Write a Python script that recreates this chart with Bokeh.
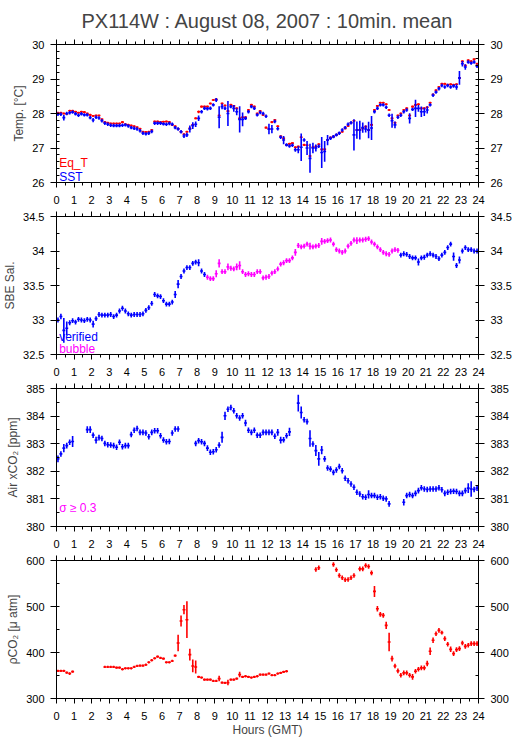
from bokeh.plotting import figure
from bokeh.models import Range1d, LinearAxis, SingleIntervalTicker, CustomJSTickFormatter, Label
from bokeh.layouts import column
from bokeh.embed import file_html
from bokeh.resources import INLINE

FONT = "Liberation Sans"
TITLE = "PX114W : August 08, 2007 : 10min. mean"
BIN_HOURS = 1.0 / 6.0          # 10-minute means
BUBBLE_HOURS = (8.5, 19.5)     # salinity flagged "bubble" in this window

# ---------------- Temperature (deg C), 10-min means ----------------
EQ_T = [
    28.02, 28.02, 28.00, 27.99, 28.08, 28.08, 28.05, 28.02, 28.05, 28.04, 28.00, 27.96,
    27.93, 27.94, 27.94, 27.83, 27.75, 27.73, 27.71, 27.71, 27.71, 27.71, 27.75, 27.69,
    27.67, 27.65, 27.63, 27.60, 27.56, 27.47, 27.46, 27.47, 27.52, 27.77, 27.77, 27.75,
    27.76, 27.77, 27.75, 27.67, 27.63, 27.56, 27.47, 27.40, 27.47, 27.57, 27.67, 27.86,
    28.05, 28.20, 28.20, 28.20, 28.29, 28.39, 28.41, 27.94, 28.29, 28.23, 28.07, 28.25,
    28.22, 28.15, 27.86, 27.89, 27.89, 28.10, 28.25, 28.20, 28.00, 28.07, 27.96, 27.59,
    27.55, 27.75, 27.81, 27.63, 27.34, 27.28, 27.09, 27.12, 27.14, 27.02, 27.04, 27.31,
    27.09, 27.08, 26.77, 27.02, 27.04, 27.11, 26.96, 26.96, 27.23, 27.30, 27.33, 27.38,
    27.43, 27.47, 27.57, 27.64, 27.73, 27.79, 27.52, 27.52, 27.57, 27.62, 27.52, 27.67,
    28.10, 28.22, 28.31, 28.31, 28.27, 28.10, 27.86, 27.73, 27.94, 28.00, 28.10, 28.15,
    27.94, 28.20, 28.25, 28.27, 28.15, 28.15, 28.18, 28.31, 28.55, 28.67, 28.77, 28.86,
    28.86, 28.83, 28.85, 28.83, 28.85, 29.03, 29.51, 29.39, 29.54, 29.51, 29.57, 29.44,
]
EQ_T_SD = [
    0.03, 0.03, 0.03, 0.03, 0.03, 0.03, 0.03, 0.03, 0.03, 0.03, 0.03, 0.03,
    0.03, 0.03, 0.03, 0.03, 0.03, 0.03, 0.03, 0.03, 0.03, 0.03, 0.03, 0.03,
    0.03, 0.03, 0.03, 0.03, 0.03, 0.03, 0.03, 0.03, 0.03, 0.03, 0.03, 0.03,
    0.03, 0.03, 0.03, 0.03, 0.03, 0.03, 0.03, 0.03, 0.03, 0.03, 0.03, 0.03,
    0.04, 0.03, 0.03, 0.03, 0.03, 0.03, 0.03, 0.03, 0.03, 0.03, 0.03, 0.03,
    0.03, 0.03, 0.03, 0.03, 0.03, 0.03, 0.03, 0.03, 0.03, 0.03, 0.03, 0.03,
    0.03, 0.03, 0.03, 0.03, 0.03, 0.03, 0.03, 0.03, 0.03, 0.03, 0.03, 0.03,
    0.03, 0.03, 0.03, 0.03, 0.03, 0.03, 0.03, 0.03, 0.03, 0.03, 0.03, 0.03,
    0.03, 0.03, 0.03, 0.03, 0.03, 0.03, 0.03, 0.03, 0.03, 0.03, 0.03, 0.03,
    0.03, 0.03, 0.03, 0.03, 0.03, 0.03, 0.03, 0.03, 0.03, 0.03, 0.03, 0.03,
    0.03, 0.03, 0.03, 0.03, 0.03, 0.03, 0.03, 0.03, 0.03, 0.03, 0.03, 0.03,
    0.03, 0.03, 0.03, 0.03, 0.03, 0.03, 0.03, 0.03, 0.03, 0.03, 0.03, 0.03,
]
SST = [
    27.98, 27.98, 27.88, 28.00, 28.02, 28.04, 27.99, 27.95, 27.99, 27.96, 27.96, 27.88,
    27.81, 27.89, 27.87, 27.79, 27.72, 27.69, 27.66, 27.65, 27.65, 27.65, 27.66, 27.67,
    27.64, 27.59, 27.57, 27.55, 27.50, 27.43, 27.41, 27.43, 27.48, 27.72, 27.72, 27.72,
    27.70, 27.69, 27.71, 27.69, 27.59, 27.55, 27.47, 27.35, 27.38, 27.55, 27.65, 27.69,
    27.86, 28.05, 28.15, 28.14, 28.15, 28.25, 28.39, 27.89, 28.20, 28.15, 28.00, 28.20,
    28.15, 28.05, 27.83, 27.83, 27.86, 28.05, 28.20, 28.15, 27.96, 28.03, 28.00, 27.92,
    27.55, 27.55, 27.77, 27.56, 27.31, 27.23, 27.09, 27.06, 27.08, 26.95, 26.95, 27.02,
    27.23, 27.00, 26.70, 27.00, 27.00, 27.05, 26.87, 26.90, 27.23, 27.28, 27.33, 27.38,
    27.43, 27.52, 27.59, 27.69, 27.73, 27.38, 27.52, 27.52, 27.59, 27.55, 27.52, 27.58,
    28.05, 28.15, 28.25, 28.25, 28.18, 27.95, 27.79, 27.67, 27.89, 27.95, 28.05, 28.10,
    27.86, 28.12, 28.15, 28.15, 28.05, 28.05, 28.10, 28.25, 28.53, 28.62, 28.72, 28.81,
    28.77, 28.81, 28.77, 28.80, 28.77, 29.03, 29.44, 29.35, 29.49, 29.46, 29.49, 29.37,
]
SST_SD = [
    0.05, 0.05, 0.08, 0.05, 0.05, 0.05, 0.05, 0.05, 0.05, 0.05, 0.05, 0.05,
    0.06, 0.05, 0.05, 0.05, 0.05, 0.05, 0.05, 0.05, 0.05, 0.05, 0.05, 0.05,
    0.05, 0.05, 0.05, 0.05, 0.05, 0.05, 0.05, 0.05, 0.05, 0.05, 0.05, 0.05,
    0.05, 0.05, 0.05, 0.05, 0.05, 0.05, 0.05, 0.06, 0.06, 0.10, 0.10, 0.08,
    0.08, 0.05, 0.05, 0.05, 0.05, 0.05, 0.06, 0.32, 0.08, 0.05, 0.36, 0.05,
    0.10, 0.10, 0.38, 0.20, 0.05, 0.05, 0.05, 0.05, 0.05, 0.05, 0.05, 0.05,
    0.15, 0.12, 0.05, 0.05, 0.05, 0.12, 0.05, 0.05, 0.05, 0.06, 0.10, 0.40,
    0.05, 0.20, 0.42, 0.15, 0.10, 0.05, 0.45, 0.30, 0.15, 0.05, 0.05, 0.05,
    0.05, 0.05, 0.05, 0.05, 0.05, 0.45, 0.25, 0.27, 0.15, 0.10, 0.24, 0.35,
    0.05, 0.05, 0.05, 0.05, 0.05, 0.05, 0.20, 0.10, 0.05, 0.05, 0.05, 0.05,
    0.15, 0.05, 0.25, 0.10, 0.15, 0.12, 0.10, 0.05, 0.05, 0.05, 0.05, 0.05,
    0.05, 0.05, 0.05, 0.05, 0.08, 0.20, 0.08, 0.08, 0.05, 0.05, 0.05, 0.05,
]

# ---------------- SBE salinity ----------------
SAL = [
    33.00, 33.05, 32.85, 32.88, 32.96, 32.99, 32.97, 33.01, 33.00, 32.99, 33.01, 33.00,
    32.94, 33.02, 33.08, 33.07, 33.07, 33.07, 33.08, 33.05, 33.07, 33.13, 33.17, 33.13,
    33.09, 33.07, 33.08, 33.08, 33.08, 33.09, 33.14, 33.18, 33.24, 33.37, 33.35, 33.34,
    33.28, 33.23, 33.23, 33.26, 33.37, 33.52, 33.63, 33.71, 33.76, 33.76, 33.82, 33.84,
    33.83, 33.71, 33.66, 33.62, 33.60, 33.60, 33.67, 33.82, 33.70, 33.70, 33.77, 33.75,
    33.74, 33.77, 33.79, 33.70, 33.66, 33.67, 33.66, 33.66, 33.70, 33.70, 33.61, 33.62,
    33.63, 33.68, 33.70, 33.74, 33.81, 33.83, 33.86, 33.86, 33.90, 33.98, 34.08, 34.06,
    34.07, 34.10, 34.07, 34.06, 34.07, 34.08, 34.14, 34.14, 34.15, 34.16, 34.10, 34.02,
    34.00, 33.98, 34.00, 34.07, 34.11, 34.16, 34.15, 34.16, 34.16, 34.17, 34.18, 34.13,
    34.10, 34.06, 34.02, 33.98, 33.96, 33.95, 34.00, 34.02, 34.01, 33.94, 33.96, 33.95,
    33.92, 33.90, 33.90, 33.84, 33.90, 33.91, 33.94, 33.96, 33.94, 33.92, 33.89, 33.94,
    33.98, 34.05, 34.10, 33.92, 33.79, 33.87, 34.00, 34.05, 34.02, 34.02, 34.00, 34.00,
]
SAL_SD = [
    0.035, 0.04, 0.18, 0.10, 0.035, 0.035, 0.035, 0.035, 0.035, 0.035, 0.035, 0.035,
    0.05, 0.035, 0.035, 0.035, 0.035, 0.035, 0.035, 0.035, 0.035, 0.035, 0.035, 0.035,
    0.035, 0.035, 0.035, 0.035, 0.035, 0.035, 0.035, 0.035, 0.035, 0.035, 0.035, 0.035,
    0.035, 0.035, 0.035, 0.035, 0.05, 0.06, 0.035, 0.035, 0.035, 0.035, 0.035, 0.035,
    0.05, 0.035, 0.035, 0.035, 0.035, 0.035, 0.05, 0.06, 0.035, 0.035, 0.05, 0.035,
    0.035, 0.05, 0.06, 0.035, 0.035, 0.035, 0.035, 0.035, 0.035, 0.035, 0.035, 0.035,
    0.035, 0.035, 0.035, 0.035, 0.035, 0.035, 0.035, 0.035, 0.035, 0.05, 0.035, 0.035,
    0.035, 0.035, 0.05, 0.035, 0.035, 0.035, 0.05, 0.035, 0.035, 0.035, 0.035, 0.035,
    0.035, 0.035, 0.035, 0.035, 0.035, 0.035, 0.05, 0.035, 0.035, 0.035, 0.035, 0.035,
    0.035, 0.035, 0.035, 0.035, 0.035, 0.035, 0.035, 0.035, 0.035, 0.035, 0.035, 0.035,
    0.035, 0.035, 0.035, 0.05, 0.035, 0.035, 0.035, 0.035, 0.035, 0.035, 0.035, 0.035,
    0.035, 0.035, 0.035, 0.06, 0.035, 0.05, 0.035, 0.035, 0.035, 0.035, 0.035, 0.035,
]

# ---------------- Air xCO2 (ppm) ----------------
XCO2 = [
    382.45, 382.63, 382.84, 382.93, 383.05, 383.08, None, None, None, None, 383.51, 383.51,
    383.31, 383.13, 383.22, 383.19, 383.01, 382.96, 382.95, 382.93, 382.87, 383.05, 382.89, 382.93,
    382.93, 383.33, 383.49, 383.55, 383.41, 383.41, 383.39, 383.25, 383.41, 383.47, 383.47, 383.29,
    383.13, 383.07, 383.08, 383.39, 383.53, 383.53, None, None, None, None, None, 383.01,
    383.11, 383.07, 383.01, 382.84, 382.69, 382.71, 382.78, 382.95, 383.23, 384.01, 384.25, 384.31,
    384.19, 384.01, 383.93, 384.01, 383.75, 383.49, 383.41, 383.49, 383.31, 383.31, 383.41, 383.41,
    383.41, 383.41, 383.27, 383.41, 383.13, 383.14, 383.29, 383.43, None, None, 384.47, 384.13,
    383.87, 383.80, 383.19, 382.99, 382.75, 382.45, 382.77, 382.45, 382.12, 382.08, 381.96, 382.05,
    382.17, 382.02, 381.75, 381.66, 381.54, 381.42, 381.24, 381.18, 381.08, 381.06, 381.16, 381.12,
    381.12, 381.06, 381.08, 381.02, 381.00, 380.82, None, None, None, None, 380.88, 381.12,
    381.16, 381.12, 381.20, 381.30, 381.40, 381.36, 381.34, 381.36, 381.36, 381.36, 381.40, 381.33,
    381.20, 381.24, 381.27, 381.28, 381.27, 381.20, 381.20, 381.30, 381.39, 381.36, 381.34, 381.39,
]
XCO2_SD = [
    0.12, 0.10, 0.15, 0.10, 0.10, 0.20, 0.10, 0.10, 0.10, 0.10, 0.12, 0.12,
    0.10, 0.12, 0.10, 0.10, 0.10, 0.10, 0.10, 0.10, 0.10, 0.10, 0.10, 0.10,
    0.10, 0.10, 0.10, 0.10, 0.10, 0.10, 0.10, 0.10, 0.10, 0.10, 0.10, 0.10,
    0.10, 0.10, 0.10, 0.10, 0.10, 0.10, 0.10, 0.10, 0.10, 0.10, 0.10, 0.10,
    0.10, 0.10, 0.10, 0.10, 0.10, 0.10, 0.10, 0.10, 0.20, 0.15, 0.10, 0.10,
    0.10, 0.10, 0.10, 0.10, 0.12, 0.10, 0.10, 0.10, 0.10, 0.10, 0.10, 0.10,
    0.10, 0.10, 0.10, 0.12, 0.12, 0.10, 0.10, 0.15, 0.10, 0.10, 0.30, 0.22,
    0.10, 0.10, 0.30, 0.10, 0.20, 0.25, 0.15, 0.10, 0.10, 0.10, 0.10, 0.10,
    0.10, 0.10, 0.10, 0.10, 0.10, 0.10, 0.10, 0.10, 0.10, 0.10, 0.15, 0.10,
    0.10, 0.10, 0.10, 0.10, 0.10, 0.10, 0.10, 0.10, 0.10, 0.10, 0.12, 0.10,
    0.10, 0.10, 0.10, 0.10, 0.10, 0.10, 0.10, 0.10, 0.10, 0.10, 0.10, 0.10,
    0.10, 0.10, 0.10, 0.10, 0.10, 0.10, 0.10, 0.10, 0.18, 0.28, 0.10, 0.10,
]

# ---------------- pCO2 (micro atm) ----------------
PCO2 = [
    360.0, 360.0, 360.0, 356.3, 354.2, 358.5, None, None, None, None, None, None,
    None, None, None, None, 368.6, 368.6, 368.6, 368.6, 367.2, 367.2, 363.6, 365.7,
    365.7, 365.7, 368.6, 370.8, 371.5, 371.5, 373.4, 378.7, 383.1, 387.4, 391.0, 388.1,
    386.7, 378.7, 378.7, 381.6, 393.2, 420.7, 468.4, 493.0, 471.3, 395.4, 370.8, 368.6,
    347.0, 345.5, 341.1, 341.1, 341.1, 338.2, 338.2, 343.3, 334.6, 333.9, 334.6, 341.1,
    341.1, 343.3, 352.0, 347.0, 348.4, 347.0, 345.5, 347.0, 348.4, 352.0, 352.0, 352.0,
    354.2, 350.6, 350.6, 354.2, 355.6, 357.8, 359.2, None, None, None, None, None,
    None, None, None, None, 580.5, 584.1, None, 610.8, 610.8, 607.2, 591.3, 579.8,
    567.5, 562.4, 558.1, 558.8, 562.4, 567.5, None, 581.9, 581.9, 589.2, 587.0, 573.2,
    532.8, 495.2, 482.9, 480.7, 459.0, 422.8, 386.7, 370.8, 360.0, 350.6, 355.6, 355.6,
    350.6, 347.0, 359.2, 363.6, 366.5, 366.5, 375.9, 402.6, 426.5, 440.9, 448.2, 443.1,
    430.1, 417.8, 406.9, 397.5, 406.2, 408.4, 420.7, 413.4, 415.6, 419.2, 419.2, 419.2,
]
PCO2_SD = [
    2.5, 2.5, 2.5, 2.5, 3.0, 2.5, 2.5, 2.5, 2.5, 2.5, 2.5, 2.5,
    2.5, 2.5, 2.5, 2.5, 2.5, 2.5, 2.5, 2.5, 2.5, 2.5, 2.5, 2.5,
    2.5, 2.5, 2.5, 2.5, 2.5, 2.5, 2.5, 2.5, 2.5, 2.5, 2.5, 2.5,
    2.5, 2.5, 2.5, 2.5, 2.5, 18.0, 12.0, 10.0, 40.0, 13.0, 14.0, 14.0,
    2.5, 2.5, 2.5, 2.5, 2.5, 2.5, 2.5, 6.0, 2.5, 2.5, 6.0, 2.5,
    2.5, 2.5, 6.0, 2.5, 2.5, 2.5, 2.5, 2.5, 2.5, 2.5, 2.5, 2.5,
    2.5, 2.5, 2.5, 2.5, 2.5, 2.5, 2.5, 2.5, 2.5, 2.5, 2.5, 2.5,
    5.0, 5.0, 5.0, 5.0, 5.0, 5.0, 5.0, 6.0, 8.0, 5.0, 5.0, 5.0,
    5.0, 5.0, 5.0, 5.0, 5.0, 5.0, 5.0, 5.0, 5.0, 5.0, 5.0, 5.0,
    12.0, 6.0, 5.0, 5.0, 8.0, 20.0, 6.0, 5.0, 5.0, 5.0, 5.0, 5.0,
    5.0, 6.0, 5.0, 5.0, 5.0, 5.0, 6.0, 8.0, 6.0, 5.0, 5.0, 4.0,
    5.0, 5.0, 6.0, 5.0, 5.0, 5.0, 5.0, 5.0, 5.0, 5.0, 5.0, 5.0,
]

HOURS = [(i + 0.5) * BIN_HOURS for i in range(len(SST))]

RED, BLUE, MAGENTA = "#ff0000", "#0000ff", "#ff00ff"

# ---------------- layout (page is drawn from the window's top-left) ----------------
W = 515
L_BORDER, R_BORDER = 52, 37
FRAME_H = 138
GAP_BOTTOM, GAP_TOP = 27, 7
TOP1 = 44
BOTTOM4 = 41
LW = 1.6


def crosses(p, vals, sds, color, keep=None):
    hx0, hx1, hy, vx, vy0, vy1 = [], [], [], [], [], []
    for t, v, s in zip(HOURS, vals, sds):
        if v is None:
            continue
        if keep is not None and not keep(t):
            continue
        hx0.append(t - BIN_HOURS / 2)
        hx1.append(t + BIN_HOURS / 2)
        hy.append(v)
        vx.append(t)
        vy0.append(v - s)
        vy1.append(v + s)
    p.segment(x0=hx0, y0=hy, x1=hx1, y1=hy, line_color=color, line_width=LW)
    p.segment(x0=vx, y0=vy0, x1=vx, y1=vy1, line_color=color, line_width=LW)


def style_common(ax):
    ax.axis_line_color = "black"
    ax.axis_line_width = 1
    ax.major_tick_line_color = "black"
    ax.minor_tick_line_color = "black"
    ax.major_label_text_color = "black"
    ax.major_label_text_font = FONT


def make_panel(height, top, bottom, yr, yint, yminor, ylabel, xlabel=None):
    p = figure(width=W, height=height,
               min_border_left=L_BORDER, min_border_right=R_BORDER,
               min_border_top=top, min_border_bottom=bottom,
               x_range=Range1d(0, 24), y_range=Range1d(*yr),
               x_axis_location=None, y_axis_location=None,
               output_backend="svg", toolbar_location=None,
               background_fill_color="white", border_fill_color="white")
    p.grid.visible = False
    p.outline_line_color = "black"
    p.outline_line_width = 1

    # hour axis below (labelled) and above (ticks only)
    below = LinearAxis(ticker=SingleIntervalTicker(interval=1, num_minor_ticks=2))
    style_common(below)
    below.major_tick_out, below.major_tick_in = 5, 0
    below.minor_tick_out, below.minor_tick_in = 3, 0
    below.major_label_text_font_size = "11px"
    below.major_label_standoff = 8
    if xlabel:
        below.axis_label = xlabel
        below.axis_label_text_font = FONT
        below.axis_label_text_font_size = "12px"
        below.axis_label_text_font_style = "normal"
        below.axis_label_standoff = 0
    p.add_layout(below, "below")

    above = LinearAxis(ticker=SingleIntervalTicker(interval=1, num_minor_ticks=2),
                       formatter=CustomJSTickFormatter(code="return '';"))
    style_common(above)
    above.major_tick_out, above.major_tick_in = 5, 0
    above.minor_tick_out, above.minor_tick_in = 3, 0
    above.major_label_text_font_size = "1px"
    above.major_label_text_alpha = 0
    above.major_label_standoff = 0
    p.add_layout(above, "above")

    fmt = CustomJSTickFormatter(code="return String(Math.round(tick * 10) / 10);")
    for where in ("left", "right"):
        ax = LinearAxis(ticker=SingleIntervalTicker(interval=yint, num_minor_ticks=yminor),
                        formatter=fmt)
        style_common(ax)
        ax.major_tick_out, ax.major_tick_in = 6, 0
        ax.minor_tick_out, ax.minor_tick_in = 0, 3
        ax.major_label_text_font_size = "11px"
        ax.major_label_standoff = 6
        if where == "left":
            ax.axis_label = ylabel
            ax.axis_label_text_font = FONT
            ax.axis_label_text_font_size = "12px"
            ax.axis_label_text_font_style = "normal"
            ax.axis_label_standoff = 3
        p.add_layout(ax, where)
    return p


def tag(p, x, y, text, color):
    p.add_layout(Label(x=x, y=y, text=text, text_color=color, text_font=FONT,
                       text_font_size="12px", text_baseline="alphabetic"))


# Panel 1: temperature
p1 = make_panel(TOP1 + FRAME_H + GAP_BOTTOM, TOP1, GAP_BOTTOM, (26, 30), 1, 5, "Temp. [°C]")
p1.title.text = TITLE
p1.title.align = "center"
p1.title.text_font = FONT
p1.title.text_font_size = "20px"
p1.title.text_font_style = "normal"
p1.title.standoff = 15
crosses(p1, EQ_T, EQ_T_SD, RED)
crosses(p1, SST, SST_SD, BLUE)
tag(p1, 0.15, 26.56, "Eq_T", RED)
tag(p1, 0.15, 26.16, "SST", BLUE)

# Panel 2: salinity
p2 = make_panel(GAP_TOP + FRAME_H + GAP_BOTTOM, GAP_TOP, GAP_BOTTOM, (32.5, 34.5), 0.5, 2, "SBE Sal.")
crosses(p2, SAL, SAL_SD, BLUE, keep=lambda t: not (BUBBLE_HOURS[0] <= t < BUBBLE_HOURS[1]))
crosses(p2, SAL, SAL_SD, MAGENTA, keep=lambda t: BUBBLE_HOURS[0] <= t < BUBBLE_HOURS[1])
tag(p2, 0.15, 32.75, "verified", BLUE)
tag(p2, 0.15, 32.58, "bubble", MAGENTA)

# Panel 3: air xCO2
p3 = make_panel(GAP_TOP + FRAME_H + GAP_BOTTOM, GAP_TOP, GAP_BOTTOM, (380, 385), 1, 2, "Air xCO₂ [ppm]")
crosses(p3, XCO2, XCO2_SD, BLUE)
tag(p3, 0.15, 380.67, "σ ≥ 0.3", MAGENTA)

# Panel 4: pCO2
p4 = make_panel(GAP_TOP + FRAME_H + BOTTOM4, GAP_TOP, BOTTOM4, (300, 600), 100, 2,
                "ρCO₂ [μ atm]", xlabel="Hours (GMT)")
crosses(p4, PCO2, PCO2_SD, RED)

layout = column(p1, p2, p3, p4, spacing=0)

with open("out.html", "w") as f:
    f.write(file_html(layout, INLINE, title=TITLE))
